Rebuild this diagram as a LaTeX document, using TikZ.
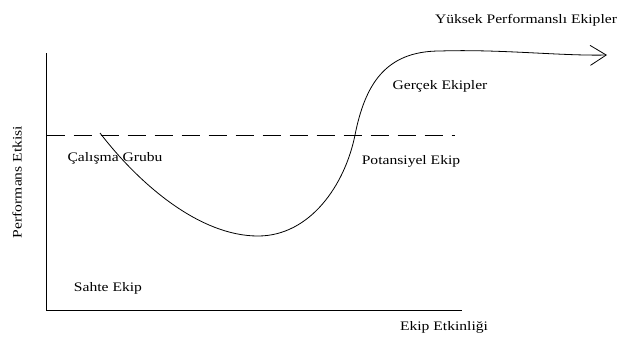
\documentclass[tikz,border=0pt]{standalone}
\usepackage{fontspec}
\setmainfont{Liberation Serif}
\usetikzlibrary{arrows.meta}
\newcommand{\sx}[1]{\scalebox{1.2}[1]{#1}}
\tikzset{
  lbl/.style={font=\fontsize{13}{15}\selectfont, inner sep=0pt, text=black},
  axisline/.style={line width=1pt, black},
  refline/.style={line width=0.9pt, black, dash pattern=on 18pt off 9pt},
  curveline/.style={line width=0.8pt, black},
}
\begin{document}
\begin{tikzpicture}[x=1pt,y=-1pt]
\useasboundingbox (0,0) rectangle (619,341);
% axes
\coordinate (ytop) at (46.5,53);
\coordinate (orig) at (46.5,310);
\coordinate (xend) at (462,310);
\draw[axisline] (ytop) -- (orig) -- (xend);
% dashed reference line
\coordinate (dl) at (46.5,135);
\coordinate (dr) at (455,135);
\draw[refline] (dl) -- (dr);
% performance curve
\coordinate (c0) at (100,133);
\coordinate (cmin) at (258,236);
\coordinate (cx) at (355,135);
\coordinate (ctop) at (440,51);
\coordinate (cend) at (607,55);
\draw[curveline, -{Straight Barb[length=16pt,width=20pt,line width=0.8pt]}]
  (c0) .. controls (140,185) and (200,236) .. (cmin)
       .. controls (310,236) and (345,185) .. (cx)
       .. controls (365,85) and (385,51) .. (ctop)
       .. controls (500,49) and (560,56) .. (cend);
% labels
\node[lbl] (hp) at (526,20) {\sx{Yüksek Performanslı Ekipler}};
\node[lbl] (ge) at (440,86) {\sx{Gerçek Ekipler}};
\node[lbl] (cg) at (115,158) {\sx{Çalışma Grubu}};
\node[lbl] (pe) at (411,161) {\sx{Potansiyel Ekip}};
\node[lbl] (se) at (108,288) {\sx{Sahte Ekip}};
\node[lbl] (ee) at (444,327) {\sx{Ekip Etkinliği}};
\node[lbl, rotate=90] (pf) at (17,182) {\sx{Performans Etkisi}};
\end{tikzpicture}
\end{document}
